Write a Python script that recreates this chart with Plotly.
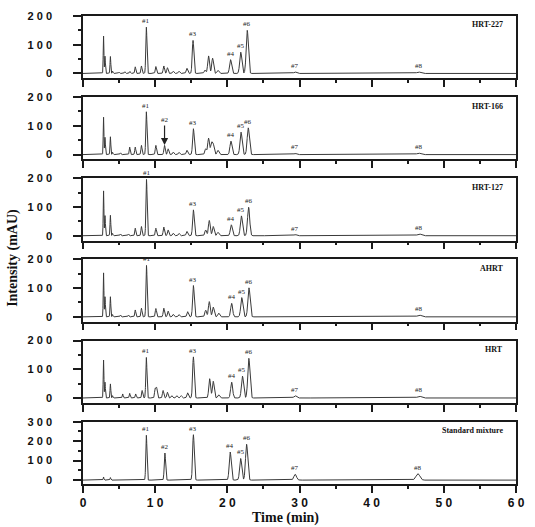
import numpy as np
import plotly.graph_objects as go

# ---------------- data ----------------
samples = ["HRT-227", "HRT-166", "HRT-127", "AHRT", "HRT", "Standard mixture"]

rt_hrt227 = [2.85, 3.05, 3.8, 4.1, 5.0, 5.8, 6.5, 7.24, 8.1, 8.78, 10.1, 11.2, 11.7, 12.5, 13.3,
             14.4, 15.25, 16.9, 17.4, 17.96, 18.7, 20.45, 21.86, 22.76, 29.4, 37.5, 46.5, 52.3]
h_hrt227 = [130, 60, 59, 8, 5, 6, 7, 23, 26, 161, 24, 26, 20, 8, 8,
            18, 115, 12, 61, 53, 11, 48, 74, 150, 5, 2, 5, 2]

rt_hrt166 = [2.85, 3.05, 3.8, 4.1, 5.2, 6.47, 7.24, 8.1, 8.78, 10.1, 11.3, 11.8, 12.5, 13.3,
             14.4, 15.3, 17.0, 17.4, 17.8, 18.05, 18.7, 20.5, 21.9, 22.9, 29.4, 46.5]
h_hrt166 = [130, 60, 62, 8, 6, 26, 26, 32, 149, 32, 32, 20, 9, 8,
            15, 90, 20, 57, 38, 34, 15, 47, 78, 93, 4, 5]

rt_hrt127 = [2.85, 3.05, 3.8, 4.1, 5.2, 6.3, 7.24, 8.1, 8.8, 10.1, 11.2, 11.8, 12.5, 13.3,
             14.4, 15.3, 17.0, 17.5, 18.05, 18.7, 20.55, 21.95, 22.95, 29.4, 46.6]
h_hrt127 = [156, 70, 71, 8, 6, 6, 26, 32, 196, 26, 30, 20, 9, 8,
            15, 90, 20, 53, 32, 12, 38, 69, 99, 4, 6]

rt_ahrt = [2.85, 3.05, 3.8, 4.1, 5.2, 6.3, 7.24, 8.1, 8.8, 10.1, 11.2, 11.8, 12.5, 13.3,
           14.5, 15.3, 17.0, 17.5, 18.05, 18.8, 20.6, 22.0, 23.0, 26.5, 28.0, 29.5, 46.6]
h_ahrt = [153, 70, 70, 8, 6, 6, 24, 30, 179, 29, 30, 20, 9, 8,
          18, 109, 23, 53, 34, 13, 47, 67, 101, 2, 2, 2, 6]

rt_hrt = [2.85, 3.05, 3.8, 4.1, 5.5, 6.47, 7.3, 8.2, 8.78, 10.0, 10.2, 11.1, 11.7, 12.3, 13.0,
          13.6, 14.5, 15.3, 17.55, 18.05, 18.8, 20.6, 22.1, 22.98, 29.4, 46.6]
h_hrt = [132, 55, 49, 8, 14, 16, 14, 26, 141, 32, 35, 26, 20, 8, 8,
         8, 18, 143, 67, 58, 11, 55, 76, 138, 8, 6]

rt_std = [2.85, 3.8, 8.78, 11.35, 15.3, 17.1, 18.8, 20.4, 21.85, 22.67, 29.4, 46.4]
h_std = [16, 13, 230, 139, 233, 3, 2, 144, 111, 184, 30, 33]

# labelled peaks: (label, retention time, height)
labels_hrt227 = [("#1", 8.78, 161), ("#3", 15.25, 115), ("#4", 20.45, 48), ("#5", 21.86, 74),
                 ("#6", 22.76, 150), ("#7", 29.4, 5), ("#8", 46.5, 5)]
labels_hrt166 = [("#1", 8.78, 149), ("#3", 15.3, 90), ("#4", 20.5, 47), ("#5", 21.9, 78),
                 ("#6", 22.9, 93), ("#7", 29.4, 4), ("#8", 46.5, 5)]
labels_hrt127 = [("#1", 8.8, 196), ("#3", 15.3, 90), ("#4", 20.55, 38), ("#5", 21.95, 69),
                 ("#6", 22.95, 99), ("#7", 29.4, 4), ("#8", 46.6, 6)]
labels_ahrt = [("#1", 8.8, 179), ("#3", 15.3, 109), ("#4", 20.6, 47), ("#5", 22.0, 67),
               ("#6", 23.0, 101), ("#8", 46.6, 6)]
labels_hrt = [("#1", 8.78, 141), ("#3", 15.3, 143), ("#4", 20.6, 55), ("#5", 22.1, 76),
              ("#6", 22.98, 138), ("#7", 29.4, 8), ("#8", 46.6, 6)]
labels_std = [("#1", 8.78, 230), ("#2", 11.35, 139), ("#3", 15.3, 233), ("#4", 20.4, 144),
              ("#5", 21.85, 111), ("#6", 22.67, 184), ("#7", 29.4, 30), ("#8", 46.4, 33)]
arrow_hrt166 = ("#2", 11.3, 33)

y_ticks_small = [0, 100, 200]
y_ticks_big = [0, 100, 200, 300]
x_ticks = [0, 10, 20, 30, 40, 50, 60]

all_rt = [rt_hrt227, rt_hrt166, rt_hrt127, rt_ahrt, rt_hrt, rt_std]
all_h = [h_hrt227, h_hrt166, h_hrt127, h_ahrt, h_hrt, h_std]
all_labels = [labels_hrt227, labels_hrt166, labels_hrt127, labels_ahrt, labels_hrt, labels_std]

# ---------------- figure ----------------
W, H = 535, 527
ML, MR, MT, MB = 83, 10, 11, 43
PH = H - MT - MB
PW = W - ML - MR

t = np.linspace(0, 60, 6001)


def chromatogram(rts, hs):
    y = np.zeros_like(t)
    for r, h in zip(rts, hs):
        s = 0.035 + 0.005 * r
        y += h * np.exp(-0.5 * ((t - r) / s) ** 2)
    return y


fig = go.Figure()
layout = dict(width=W, height=H, margin=dict(l=ML, r=MR, t=MT, b=MB),
              paper_bgcolor="white", plot_bgcolor="white", showlegend=False)
annotations = []
LC = "#1a1a1a"
serif = "Liberation Serif, Times New Roman, serif"
sans = "Liberation Sans, Arial, sans-serif"

for k in range(6):
    n = "" if k == 0 else str(k + 1)
    top_px = MT + 82 * k
    bot_px = MT + 63 + 82 * k
    dom = [(H - MB - bot_px) / PH, (H - MB - top_px) / PH]
    fig.add_trace(go.Scatter(x=t, y=chromatogram(all_rt[k], all_h[k]), mode="lines",
                             line=dict(color="#3a3a3a", width=1), xaxis="x" + n, yaxis="y" + n,
                             hoverinfo="skip"))
    last = k == 5
    layout["xaxis" + n] = dict(
        domain=[0, 1], anchor="y" + n, range=[0, 60], showline=True, mirror=True,
        linecolor=LC, linewidth=1.5, ticks="outside", ticklen=7, tickwidth=1.5, tickcolor=LC,
        tickvals=x_ticks, ticktext=[" ".join(str(v)) for v in x_ticks],
        showticklabels=last, showgrid=False, zeroline=False,
        tickfont=dict(family=sans, size=12, color="#111", weight="bold"),
        minor=dict(ticks="outside", ticklen=3, tickwidth=1.5, tickcolor=LC, dtick=5, tick0=0,
                   showgrid=False))
    yt = y_ticks_big if last else y_ticks_small
    layout["yaxis" + n] = dict(
        domain=dom, anchor="x" + n, range=[-20, 300] if last else [-17, 200],
        showline=True, mirror=True, linecolor=LC, linewidth=1.5, ticks="outside",
        ticklen=8, tickwidth=1.5, tickcolor=LC, tickvals=yt,
        ticktext=[" ".join(str(v)) for v in yt], showgrid=False, zeroline=False,
        ticklabelstandoff=19,
        tickfont=dict(family=sans, size=11, color="#111", weight="bold"),
        minor=dict(ticks="outside", ticklen=3, tickwidth=1.5, tickcolor=LC, dtick=50, tick0=0,
                   showgrid=False))
    for lab, r, h in all_labels[k]:
        annotations.append(dict(x=r, y=h, xref="x" + n, yref="y" + n, text=lab,
                                showarrow=False, yanchor="bottom", yshift=0,
                                font=dict(family=serif, size=7, color="#222")))
    if k == 1:
        lab, r, h = arrow_hrt166
        annotations.append(dict(x=r, y=h, xref="x" + n, yref="y" + n, text=lab,
                                showarrow=True, ax=0, ay=-25, arrowhead=2, arrowsize=1.2,
                                arrowwidth=1.2, arrowcolor="#222", standoff=0,
                                font=dict(family=serif, size=7, color="#222")))
    annotations.append(dict(x=(514 - ML) / PW, y=(H - MB - (top_px + 9)) / PH, xref="paper",
                            yref="paper", text="<b>%s</b>" % samples[k], showarrow=False,
                            xanchor="right", yanchor="middle",
                            font=dict(family=serif, size=8, color="#111")))

annotations.append(dict(x=(290 - ML) / PW, y=(H - MB - 518) / PH, xref="paper", yref="paper",
                        text="<b>Time (min)</b>", showarrow=False, xanchor="center",
                        yanchor="middle", font=dict(family=serif, size=14, color="#111")))
annotations.append(dict(x=(12 - ML) / PW, y=(H - MB - 255) / PH, xref="paper", yref="paper",
                        text="<b>Intensity (mAU)</b>", showarrow=False, textangle=-90,
                        xanchor="center", yanchor="middle",
                        font=dict(family=serif, size=14, color="#111")))
layout["annotations"] = annotations
fig.update_layout(**layout)
fig.write_html("out.html")
